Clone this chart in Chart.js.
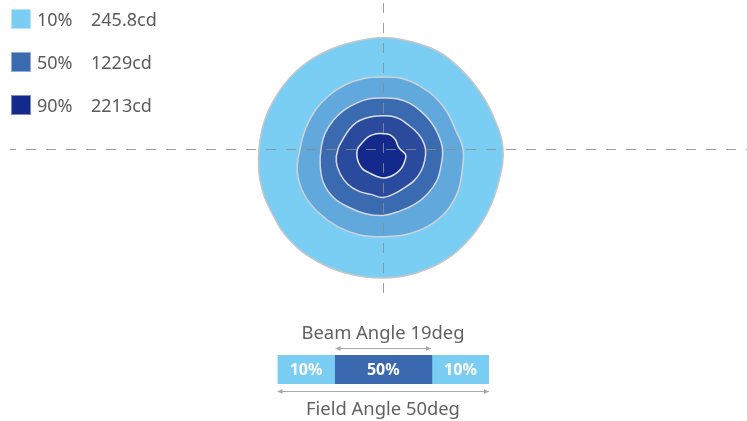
<!DOCTYPE html>
<html><head><meta charset="utf-8">
<script src="https://cdn.jsdelivr.net/npm/chart.js@4.4.1/dist/chart.umd.min.js"></script>
<style>
html,body{margin:0;padding:0;background:#fff;}
#wrap{position:relative;width:747px;height:421px;overflow:hidden;font-family:"Noto Sans",sans-serif;color:#5b5b5b;}
canvas{position:absolute;left:0;top:0;}
.row{position:absolute;left:11px;height:20px;line-height:20px;font-size:18px;white-space:nowrap;}
.sw{position:absolute;left:0;top:0;width:20px;height:20px;box-sizing:border-box;border:1px solid rgba(255,255,255,0.45);}
.pc{position:absolute;left:26px;top:0;}
.val{position:absolute;left:80px;top:0;}
.cap{position:absolute;left:233px;width:300px;text-align:center;font-size:18.4px;line-height:22px;color:#616161;white-space:nowrap;}
</style></head>
<body>
<div id="wrap">
  <canvas id="iso" width="747" height="421"></canvas>
  <canvas id="bar" width="747" height="421"></canvas>
  <div id="legend"></div>
  <div class="cap" id="beamCap" style="top:321px"></div>
  <div class="cap" id="fieldCap" style="top:397px"></div>
</div>
<script>
// ---------- data ----------
const angleLabels = ['0°','15°','30°','45°','60°','75°','90°','105°','120°','135°','150°','165°',
                     '180°','195°','210°','225°','240°','255°','270°','285°','300°','315°','330°','345°'];
// contour radii (chart units) per angle, clockwise from top
const ring10 = [111.6,111,112,111.5,112.5,115.5,120,120.2,122,124.5,127.3,128.3,129,129.5,130.2,130.5,128.2,127,124,121.5,118.5,116,113,111];
const ring30 = [72,73,73,73.5,74,75,80,82,86.2,89,89.3,88.5,87.7,89,89.9,90.6,91,88.7,83,80,78,76,74.5,73];
const ring50 = [51,52,53,53.5,55,57,59.5,60.3,62.4,63.2,63.7,64.3,66.5,67,67.5,69.3,68.5,65,62,60,57.4,55,53,52];
const ring70 = [33.3,34,34.5,34.7,37,40,42.5,43.3,44,44.4,44.3,46,48.5,47,48.7,49.8,49.5,48.4,45,41,39,37.5,35.5,34];
const ring90 = [15.3,15.5,15.8,15.6,15.4,15,17,23.5,25,26.5,27.5,28.5,29,28,27.5,28.5,28,27,25.5,22,20,18.5,17,16];
const ringLevels = ['90%','70%','50%','30%','10%'];

const legendPercents = ['10%','50%','90%'];
const legendValues = ['245.8cd','1229cd','2213cd'];

const barLabels = ['10%','50%','10%'];
const barSegments = [27,46,27];
const beamAngle = 19;
const fieldAngle = 50;

// ---------- styles ----------
const ringColors = ['#13298b','#2a4a9e','#3a6ab0','#61a9dc','#7bcef3'];
const ringBorders = ['#e4e8f0','#d9dde6','#d4d8e0','#d0d3d8','#c4c6c9'];
const legendColors = ['#7bcef3','#3a6ab0','#13298b'];
const barColors = ['#7bcef3','#3a69b0','#7bcef3'];

// legend
const lg = document.getElementById('legend');
legendPercents.forEach((p,i)=>{
  const r = document.createElement('div');
  r.className='row'; r.style.top = (9 + i*43) + 'px';
  r.innerHTML = '<span class="sw" style="background:'+legendColors[i]+'"></span><span class="pc">'+p+'</span><span class="val">'+legendValues[i]+'</span>';
  lg.appendChild(r);
});
document.getElementById('beamCap').textContent = 'Beam Angle ' + beamAngle + 'deg';
document.getElementById('fieldCap').textContent = 'Field Angle ' + fieldAngle + 'deg';

// crosshair plugin
const crosshair = {
  id:'crosshair',
  afterDatasetsDraw(chart){
    const s = chart.scales.r, ctx = chart.ctx;
    ctx.save();
    ctx.strokeStyle = 'rgba(140,140,140,0.85)';
    ctx.lineWidth = 1;
    ctx.setLineDash([10,10]);
    ctx.lineDashOffset = 4;
    ctx.beginPath();
    ctx.moveTo(10, s.yCenter + 0.5); ctx.lineTo(chart.width, s.yCenter + 0.5);
    ctx.stroke();
    ctx.lineDashOffset = 0;
    ctx.beginPath();
    ctx.moveTo(s.xCenter + 0.5, 3); ctx.lineTo(s.xCenter + 0.5, s.yCenter + 147);
    ctx.stroke();
    ctx.restore();
  }
};

const rings = [ring90, ring70, ring50, ring30, ring10];
new Chart(document.getElementById('iso'), {
  type:'radar',
  data:{
    labels: angleLabels,
    datasets: rings.map((d,i)=>({
      label: ringLevels[i], data: d,
      backgroundColor: ringColors[i], borderColor: ringBorders[i],
      borderWidth: 1.5, fill: 'origin', pointRadius: 0, tension: 0.4
    }))
  },
  options:{
    responsive:false, animation:false, devicePixelRatio:1,
    layout:{padding:{left:234, right:215, top:0, bottom:123}},
    plugins:{legend:{display:false}, tooltip:{enabled:false}},
    scales:{ r:{ min:0, max:149, display:false,
      grid:{display:false}, angleLines:{display:false}, ticks:{display:false}, pointLabels:{display:false} } }
  },
  plugins:[crosshair]
});

// bar + arrows plugin
function arrow(ctx, x1, x2, y){
  ctx.beginPath(); ctx.moveTo(x1, y); ctx.lineTo(x2, y); ctx.stroke();
  ctx.beginPath(); ctx.moveTo(x1, y); ctx.lineTo(x1+5, y-2.5); ctx.lineTo(x1+5, y+2.5); ctx.closePath(); ctx.fill();
  ctx.beginPath(); ctx.moveTo(x2, y); ctx.lineTo(x2-5, y-2.5); ctx.lineTo(x2-5, y+2.5); ctx.closePath(); ctx.fill();
}
const barDeco = {
  id:'barDeco',
  afterDatasetsDraw(chart){
    const ctx = chart.ctx, a = chart.chartArea;
    ctx.save();
    ctx.fillStyle = '#ffffff';
    ctx.font = 'bold 16px "Noto Sans"';
    ctx.textAlign = 'center'; ctx.textBaseline = 'middle';
    chart.data.datasets.forEach((ds,i)=>{
      const el = chart.getDatasetMeta(i).data[0];
      ctx.fillText(barLabels[i], (el.x + el.base)/2, el.y + 1);
    });
    ctx.strokeStyle = '#a9a9a9'; ctx.fillStyle = '#a9a9a9'; ctx.lineWidth = 1;
    const mid = chart.getDatasetMeta(1).data[0];
    arrow(ctx, mid.base + 1, mid.x - 1, a.top - 6.5);
    arrow(ctx, a.left, a.right, a.bottom + 7.5);
    ctx.restore();
  }
};
new Chart(document.getElementById('bar'), {
  type:'bar',
  data:{
    labels:['angle'],
    datasets: barSegments.map((v,i)=>({ label: barLabels[i], data:[v], backgroundColor: barColors[i],
      borderWidth:0, barPercentage:1, categoryPercentage:1 }))
  },
  options:{
    indexAxis:'y', responsive:false, animation:false, devicePixelRatio:1,
    layout:{padding:{left:277.5, right:258, top:355, bottom:37}},
    plugins:{legend:{display:false}, tooltip:{enabled:false}},
    scales:{ x:{stacked:true, display:false, min:0, max:barSegments.reduce((s,v)=>s+v,0)},
             y:{stacked:true, display:false} }
  },
  plugins:[barDeco]
});
</script>
</body></html>
